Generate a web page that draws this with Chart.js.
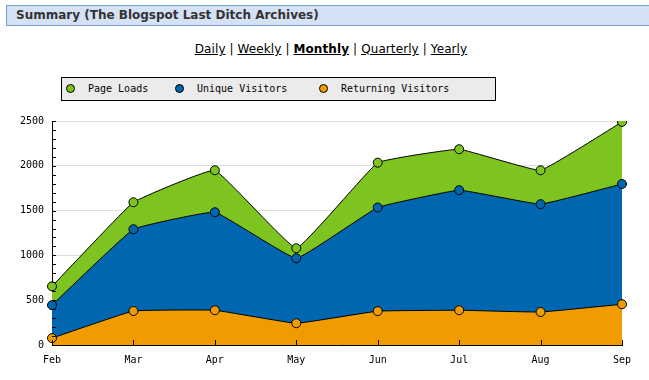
<!DOCTYPE html>
<html>
<head>
<meta charset="utf-8">
<script src="https://cdn.jsdelivr.net/npm/chart.js@4/dist/chart.umd.min.js"></script>
<style>
  html, body { margin:0; padding:0; background:#fff; width:649px; height:380px; overflow:hidden; }
  #hdr { position:absolute; left:6px; top:5px; width:660px; height:19px; background:#d5e2f6; border:1px solid #74a0d8; box-sizing:content-box; }
  #hdr span { position:absolute; left:9px; top:2px; font:bold 12px "DejaVu Sans", Verdana, sans-serif; color:#333; white-space:nowrap; }
  #nav { position:absolute; left:0; width:662px; top:42px; text-align:center; font:12px "DejaVu Sans", Verdana, sans-serif; color:#000; letter-spacing:0.1px; }
  #nav a { color:#000; text-decoration:underline; }
  #nav a.cur { font-weight:bold; }
  #legend { position:absolute; left:61px; top:77px; width:433px; height:22px; background:#ebebeb; border:1px solid #000; font:10px "DejaVu Sans Mono", monospace; }
  .li { position:absolute; top:5px; white-space:nowrap; }
  .li i { position:absolute; top:1px; width:7px; height:7px; border:1px solid #000; border-radius:50%; }
  .li b { font-weight:normal; position:absolute; top:0; white-space:nowrap; }
  #wrap { position:absolute; left:0; top:105px; width:649px; height:275px; }
</style>
</head>
<body>
<div id="hdr"><span>Summary (The Blogspot Last Ditch Archives)</span></div>
<div id="nav"><a>Daily</a> | <a>Weekly</a> | <a class="cur">Monthly</a> | <a>Quarterly</a> | <a>Yearly</a></div>
<div id="legend"></div>
<div id="wrap"><canvas id="c" width="649" height="275"></canvas></div>
<script>
const months = ["Feb","Mar","Apr","May","Jun","Jul","Aug","Sep"];
const pageLoads = [655, 1593, 1950, 1080, 2035, 2185, 1950, 2490];
const uniqueVisitors = [445, 1292, 1482, 968, 1535, 1728, 1572, 1797];
const returningVisitors = [77, 379, 388, 243, 378, 388, 368, 455];
const seriesNames = ["Page Loads","Unique Visitors","Returning Visitors"];
const seriesColors = ["#7dc421","#0066b0","#f09c00"];
const yTicks = [0, 500, 1000, 1500, 2000, 2500];

// HTML legend
const leg = document.getElementById('legend');
const legX = [[4, 26], [113, 135], [257, 279]];
seriesNames.forEach((n, i) => {
  const d = document.createElement('div');
  d.className = 'li';
  d.style.left = legX[i][0] + 'px';
  d.innerHTML = '<i style="left:0;background:' + seriesColors[i] + '"></i><b style="left:' + (legX[i][1]-legX[i][0]) + 'px">' + n + '</b>';
  leg.appendChild(d);
});

const innerTicks = {
  id: 'innerTicks',
  afterDraw(chart) {
    const ctx = chart.ctx, x = chart.scales.x, y = chart.scales.y, a = chart.chartArea;
    ctx.save();
    ctx.strokeStyle = '#000';
    ctx.lineWidth = 1;
    ctx.beginPath();
    for (let v = y.min; v <= y.max; v += 100) {
      const py = Math.round(y.getPixelForValue(v)) + 0.5;
      ctx.moveTo(a.left, py); ctx.lineTo(a.left + 4, py);
    }
    months.forEach((m, i) => {
      const px = Math.round(x.getPixelForValue(i)) + 0.5;
      ctx.moveTo(px, a.bottom); ctx.lineTo(px, a.bottom - 5);
    });
    ctx.stroke();
    ctx.restore();
  }
};

const mk = (i, data, order) => ({
  label: seriesNames[i],
  data: data,
  fill: 'origin',
  backgroundColor: seriesColors[i],
  borderColor: '#000',
  borderWidth: 1,
  pointBackgroundColor: seriesColors[i],
  pointBorderColor: '#000',
  pointBorderWidth: 1,
  pointRadius: 4.5,
  tension: 0.08,
  order: order
});

new Chart(document.getElementById('c'), {
  type: 'line',
  data: {
    labels: months,
    datasets: [mk(0, pageLoads, 2), mk(1, uniqueVisitors, 1), mk(2, returningVisitors, 0)]
  },
  options: {
    responsive: false,
    animation: false,
    devicePixelRatio: 1,
    layout: { padding: { left: 0, right: 27, top: 16, bottom: 0 } },
    plugins: { legend: { display: false }, tooltip: { enabled: false } },
    scales: {
      x: {
        offset: false,
        afterFit(s) { s.height = 35; },
        grid: { display: false, drawTicks: false },
        border: { display: true, color: '#000', width: 1 },
        ticks: { color: '#000', font: { family: 'DejaVu Sans Mono', size: 10 }, padding: 9, maxRotation: 0, autoSkip: false }
      },
      y: {
        min: 0, max: 2500,
        afterFit(s) { s.width = 52; },
        afterBuildTicks(s) { s.ticks = yTicks.map(v => ({ value: v })); },
        grid: { color: (c) => c.tick && c.tick.value === 0 ? 'transparent' : '#dcdcdc', drawTicks: false },
        border: { display: true, color: '#000', width: 1 },
        ticks: { color: '#000', font: { family: 'DejaVu Sans Mono', size: 10 }, padding: 8, callback: (v) => String(v) }
      }
    }
  },
  plugins: [innerTicks]
});
</script>
</body>
</html>
